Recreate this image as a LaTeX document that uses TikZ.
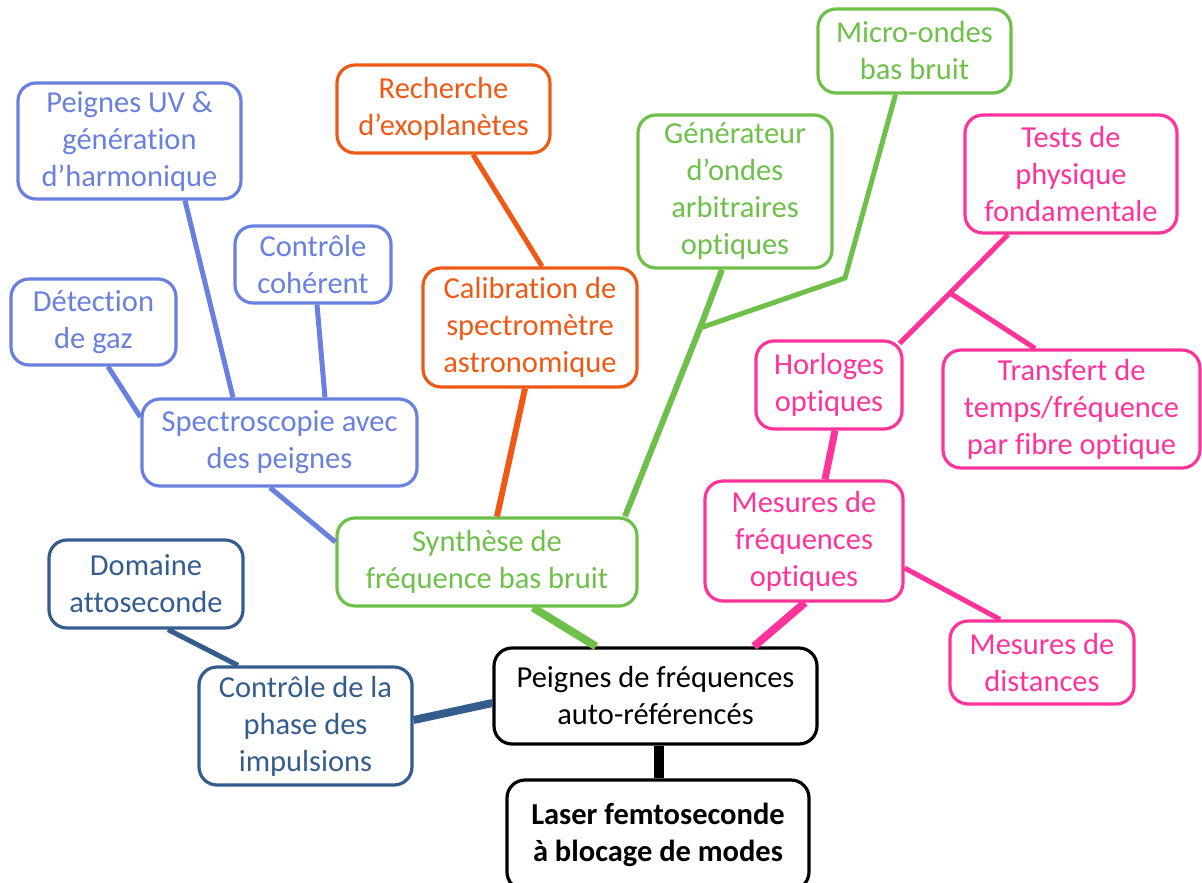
\documentclass[tikz,border=0pt]{standalone}
\usepackage{fontspec}
\setmainfont{Carlito}[Ligatures={NoCommon}]
\usepackage{tikz}

\definecolor{specblue}{RGB}{106,128,222}
\definecolor{astroorange}{RGB}{238,90,22}
\definecolor{synthgreen}{RGB}{110,192,74}
\definecolor{optpink}{RGB}{255,51,153}
\definecolor{phaseblue}{RGB}{52,93,142}

\begin{document}
\begin{tikzpicture}[x=1pt,y=-1pt,
    box/.style={draw,rounded corners=18pt,line width=3.2pt,fill=white,align=center,
      inner sep=0pt,font=\fontsize{30.5}{37}\selectfont},
    specbox/.style={box,draw=specblue,text=specblue},
    astrobox/.style={box,draw=astroorange,text=astroorange},
    synthbox/.style={box,draw=synthgreen,text=synthgreen},
    optbox/.style={box,draw=optpink,text=optpink},
    phasebox/.style={box,draw=phaseblue,text=phaseblue},
    link/.style={line width=5pt},
    trunk/.style={line width=8pt}]

\useasboundingbox (0,0) rectangle (1202,883);

% centre
\node[box,minimum width=323pt,minimum height=96pt] (comb) at (655.5,696) {Peignes de fréquences\\auto-référencés};
\node[box,minimum width=302pt,minimum height=110pt,font=\fontsize{30.5}{37}\selectfont\bfseries] (laser) at (658,835) {Laser femtoseconde\\à blocage de modes};

% spectroscopy
\node[specbox,minimum width=223pt,minimum height=116pt] (uv) at (129.5,141) {Peignes UV \&\\génération\\d’harmonique};
\node[specbox,minimum width=156pt,minimum height=77pt] (coh) at (313,264.5) {Contrôle\\cohérent};
\node[specbox,minimum width=165pt,minimum height=86pt] (gaz) at (93.5,322) {Détection\\de gaz};
\node[specbox,minimum width=275pt,minimum height=87pt] (spec) at (279.5,442.5) {Spectroscopie avec\\des peignes};

% astronomy
\node[astrobox,minimum width=213pt,minimum height=88pt] (exo) at (443.5,109) {Recherche\\d’exoplanètes};
\node[astrobox,minimum width=214pt,minimum height=119pt] (calib) at (530,327.5) {Calibration de\\spectromètre\\astronomique};

% synthesis
\node[synthbox,minimum width=193pt,minimum height=84pt] (micro) at (914.5,51) {Micro-ondes\\bas bruit};
\node[synthbox,minimum width=194pt,minimum height=153pt] (gen) at (735,191.5) {Générateur\\d’ondes\\arbitraires\\optiques};
\node[synthbox,minimum width=300pt,minimum height=88pt] (synth) at (487,562) {Synthèse de\\fréquence bas bruit};

% optical metrology
\node[optbox,minimum width=212pt,minimum height=118pt] (tests) at (1071,174) {Tests de\\physique\\fondamentale};
\node[optbox,minimum width=146pt,minimum height=88pt] (horl) at (829,385) {Horloges\\optiques};
\node[optbox,minimum width=257pt,minimum height=118pt] (transf) at (1071.5,409) {Transfert de\\temps/fréquence\\par fibre optique};
\node[optbox,minimum width=198pt,minimum height=120pt] (mfreq) at (804,541) {Mesures de\\fréquences\\optiques};
\node[optbox,minimum width=184pt,minimum height=83pt] (dist) at (1042,662.5) {Mesures de\\distances};

% pulse phase
\node[phasebox,minimum width=194pt,minimum height=88pt] (atto) at (146,584) {Domaine\\attoseconde};
\node[phasebox,minimum width=213pt,minimum height=118pt] (phase) at (305.5,726) {Contrôle de la\\phase des\\impulsions};

\coordinate (gj) at (700,328);
\coordinate (gbend) at (845,278);
\coordinate (pj) at (950,293);

% spectroscopy links
\draw[link,specblue] ([xshift=55.5pt]uv.south) -- ([xshift=-46.5pt]spec.north);
\draw[link,specblue] ([xshift=4pt]coh.south) -- ([xshift=45.5pt]spec.north);
\draw[link,specblue] ([xshift=14.5pt]gaz.south) -- ([yshift=25.5pt]spec.west);
\draw[link,specblue] ([xshift=-9.5pt]spec.south) -- ([yshift=20pt]synth.west);

% astronomy links
\draw[link,astroorange] ([xshift=29.5pt]exo.south) -- ([xshift=12pt]calib.north);
\draw[link,astroorange,line width=6pt] ([xshift=-5pt]calib.south) -- ([xshift=10pt]synth.north);

% synthesis links
\draw[link,synthgreen,line width=6pt] ([xshift=-13pt]gen.south) -- (gj) -- ([xshift=138pt]synth.north);
\draw[link,synthgreen] (gj) -- (gbend) -- ([xshift=-19pt]micro.south);

% optical links
\draw[link,optpink] ([xshift=-63pt]tests.south) -- (pj) -- ([xshift=-4pt,yshift=-4pt]horl.north east);
\draw[link,optpink] (pj) -- ([xshift=-36.5pt]transf.north);
\draw[link,optpink,line width=7pt] ([xshift=6pt]horl.south) -- ([xshift=21pt]mfreq.north);
\draw[link,optpink] ([yshift=-27pt]mfreq.east) -- ([xshift=-42pt]dist.north);

% phase links
\draw[link,phaseblue] ([xshift=22pt]atto.south) -- ([xshift=-67.5pt]phase.north);

% trunk
\draw[trunk,synthgreen] ([xshift=46pt]synth.south) -- ([xshift=-59.5pt]comb.north);
\draw[trunk,optpink] ([xshift=1pt]mfreq.south) -- ([xshift=98.5pt]comb.north);
\draw[trunk,phaseblue] ([yshift=6pt]phase.east) -- ([yshift=-7pt]comb.west);
\draw[trunk,line width=10pt] ([xshift=3pt]comb.south) -- ([xshift=3pt]comb.south |- laser.north);

\end{tikzpicture}
\end{document}
